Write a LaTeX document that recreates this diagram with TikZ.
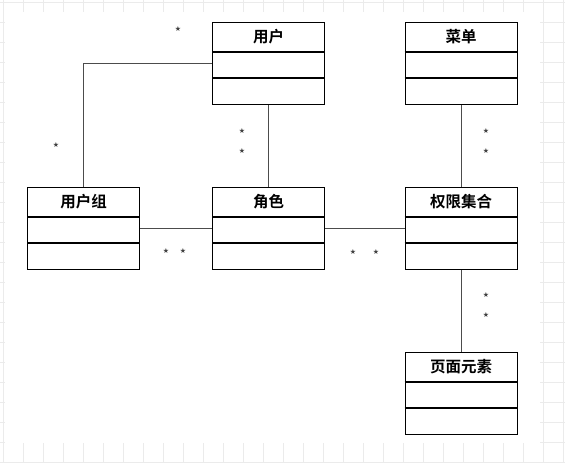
\documentclass[tikz,border=0pt]{standalone}
\usepackage{fontspec}
\newfontfamily\cjk{Noto Sans CJK SC}[BoldFont={Noto Sans CJK SC Bold}]
\newfontfamily\symfont{DejaVu Sans}
\setmainfont{Liberation Sans}
\tikzset{
  classbox/.style={draw=black, line width=1.3pt, minimum width=112pt, minimum height=82pt, anchor=north west, inner sep=0pt},
  classtitle/.style={font=\cjk\bfseries\fontsize{15.5}{16}\selectfont, inner sep=0pt, anchor=center},
  divider/.style={draw=black, line width=1.1pt},
  conn/.style={draw=black!70, line width=0.8pt},
  mult/.style={font=\symfont\fontsize{7}{7}\selectfont, inner sep=0pt, text=black!75},
}
\newcommand{\umlclass}[4]{%
  \node[classbox] (#1) at (#2,#3) {};
  \node[classtitle] (#1t) at ([yshift=-15pt]#1.north) {#4};
  \draw[divider] ([yshift=-30pt]#1.north west) -- ([yshift=-30pt]#1.north east);
  \draw[divider] ([yshift=-56pt]#1.north west) -- ([yshift=-56pt]#1.north east);
}
\begin{document}
\begin{tikzpicture}[x=1pt,y=-1pt]
\useasboundingbox (0,0) rectangle (565,463);
% grid background
\foreach \gx in {3,23,...,563} \draw[black!8, line width=0.6pt] (\gx,0) -- (\gx,463);
\foreach \gy in {2,22,...,462} \draw[black!8, line width=0.6pt] (0,\gy) -- (565,\gy);
\fill[white] (5,12) rectangle (540,443);
% classes
\umlclass{u}{212}{22}{用户}
\umlclass{cd}{404.5}{22}{菜单}
\umlclass{ug}{27}{187}{用户组}
\umlclass{js}{212}{187}{角色}
\umlclass{qx}{404.5}{187}{权限集合}
\umlclass{ym}{404.5}{352}{页面元素}
% connectors
\draw[conn] ([yshift=-41pt]u.north west) -| (ug.north);
\draw[conn] (u.south) -- (js.north);
\draw[conn] ([yshift=-41pt]ug.north east) -- ([yshift=-41pt]js.north west);
\draw[conn] ([yshift=-41pt]js.north east) -- ([yshift=-41pt]qx.north west);
\draw[conn] (cd.south) -- (qx.north);
\draw[conn] (qx.south) -- (ym.north);
% multiplicities
\node[mult] (m1) at (178,29) {★};
\node[mult] (m2) at (56,145) {★};
\node[mult] (m3) at (242,131) {★};
\node[mult] (m4) at (242,151) {★};
\node[mult] (m5) at (166,251) {★};
\node[mult] (m6) at (183,251) {★};
\node[mult] (m7) at (353,252) {★};
\node[mult] (m8) at (376,252) {★};
\node[mult] (m9) at (486,131) {★};
\node[mult] (m10) at (486,151) {★};
\node[mult] (m11) at (486,295) {★};
\node[mult] (m12) at (486,315) {★};
\end{tikzpicture}
\end{document}
